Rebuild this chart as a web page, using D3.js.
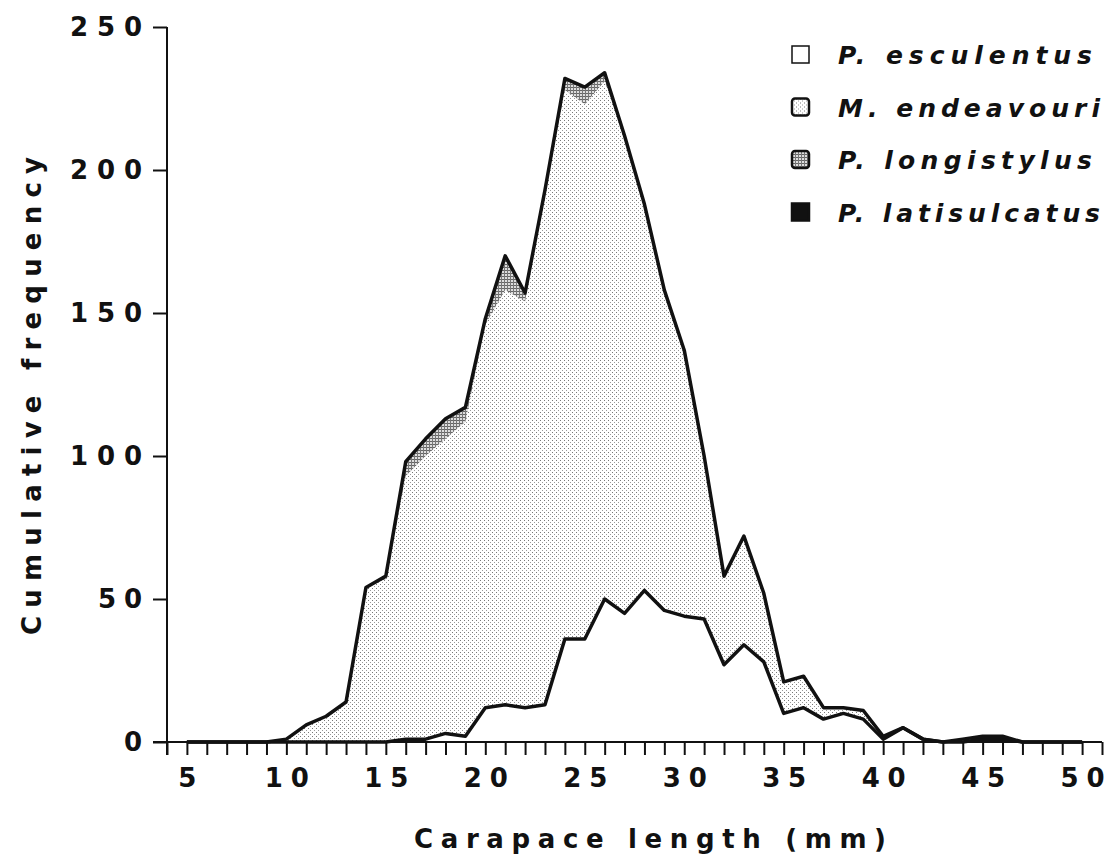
<!DOCTYPE html>
<html>
<head>
<meta charset="utf-8">
<script src="https://cdn.jsdelivr.net/npm/d3@7"></script>
<style>
  body { margin: 0; background: #fff; }
  svg text { font-family: "DejaVu Sans", "Liberation Sans", sans-serif; font-weight: bold; fill: #111; }
</style>
</head>
<body>
<div id="chart"></div>
<script>
// carapace length classes (mm)
const lengths = d3.range(5, 51);

// counts per class
const esculentus = [0,0,0,0,0, 0,0,0,0,0, 0,1,1,3,2, 12,13,12,13,36, 36,50,45,53,46, 44,43,27,34,28, 10,12,8,10,8, 1,5,1,0,0, 1,1,0,0,0, 0];
const endeavouri = [0,0,0,0,0, 1,6,9,14,54, 57,92,99,103,110, 134,145,142,179,192, 187,181,167,135,112, 93,57,31,38,24, 11,11,4,2,3, 1,0,0,0,1, 0,0,0,0,0, 0];
const longistylus = [0,0,0,0,0, 0,0,0,0,0, 1,5,6,7,5, 2,12,3,1,4, 6,3,0,0,0, 0,0,0,0,0, 0,0,0,0,0, 0,0,0,0,0, 0,0,0,0,0, 0];
const latisulcatus = [0,0,0,0,0, 0,0,0,0,0, 0,0,0,0,0, 0,0,0,0,0, 0,0,0,0,0, 0,0,0,0,0, 0,0,0,0,0, 0,0,0,0,0, 1,1,0,0,0, 0];

const species = ['P. esculentus', 'M. endeavouri', 'P. longistylus', 'P. latisulcatus'];
const yTicks = [0, 50, 100, 150, 200, 250];
const xLabels = [5, 10, 15, 20, 25, 30, 35, 40, 45, 50];

const W = 1108, H = 854;
const svg = d3.select('#chart').append('svg').attr('width', W).attr('height', H);

// stipple fills
const defs = svg.append('defs');
const light = defs.append('pattern').attr('id', 'light').attr('width', 4).attr('height', 4)
    .attr('patternUnits', 'userSpaceOnUse');
light.append('rect').attr('width', 4).attr('height', 4).attr('fill', '#fff');
light.append('rect').attr('x', 0).attr('y', 0).attr('width', 1).attr('height', 1).attr('fill', '#777');
light.append('rect').attr('x', 2).attr('y', 2).attr('width', 1).attr('height', 1).attr('fill', '#999');

const dark = defs.append('pattern').attr('id', 'dark').attr('width', 3).attr('height', 3)
    .attr('patternUnits', 'userSpaceOnUse');
dark.append('rect').attr('width', 3).attr('height', 3).attr('fill', '#ddd');
dark.append('rect').attr('x', 0).attr('y', 0).attr('width', 3).attr('height', 1).attr('fill', '#666');
dark.append('rect').attr('x', 0).attr('y', 0).attr('width', 1).attr('height', 3).attr('fill', '#777');

const fills = ['#fff', 'url(#light)', 'url(#dark)', '#111'];

const x = d3.scaleLinear().domain([4, 51]).range([167, 1102]);
const y = d3.scaleLinear().domain([0, 250]).range([742, 27]);

const rows = lengths.map((len, i) => ({
    len: len,
    'P. esculentus': esculentus[i],
    'M. endeavouri': endeavouri[i],
    'P. longistylus': longistylus[i],
    'P. latisulcatus': latisulcatus[i]
}));

const layers = d3.stack().keys(species)(rows);

const area = d3.area()
    .x(d => x(d.data.len))
    .y0(d => y(d[0]))
    .y1(d => y(d[1]));

svg.append('g').selectAll('path')
    .data(layers)
    .join('path')
    .attr('d', area)
    .attr('fill', (d, i) => fills[i]);

// outlines: esculentus and the total
const line = d3.line().x(d => x(d.data.len)).y(d => y(d[1]));
[layers[0], layers[layers.length - 1]].forEach(l => {
    svg.append('path').attr('d', line(l))
        .attr('fill', 'none').attr('stroke', '#111')
        .attr('stroke-width', 3.5).attr('stroke-linejoin', 'round');
});

// spread the numbers a little, like the typed originals
const labelWidth = s => ({ 1: 0, 2: 44, 3: 72 })[String(s).length];

// axes
const yAxis = d3.axisLeft(y).tickValues(yTicks).tickSize(14).tickPadding(11);
const gy = svg.append('g').attr('transform', `translate(${x(4)},0)`).call(yAxis);
gy.select('.domain').attr('d', `M0,${y(250)}V${y(0) + 13}`);

const xAxis = d3.axisBottom(x).tickValues(d3.range(4, 52)).tickSize(13).tickPadding(14)
    .tickFormat(d => xLabels.includes(d) ? d : '');
const gx = svg.append('g').attr('transform', `translate(0,${y(0)})`).call(xAxis);
gx.select('.domain').attr('d', `M${x(4) - 14},0H${x(51)}`);

[gx, gy].forEach(g => {
    g.selectAll('.domain, .tick line').attr('stroke', '#111').attr('stroke-width', 2);
    g.selectAll('text').attr('font-size', 26)
        .attr('font-family', null)
        .each(function () {
            const t = d3.select(this).text();
            if (labelWidth(t)) d3.select(this).attr('textLength', labelWidth(t)).attr('lengthAdjust', 'spacing');
        });
});

// axis titles
svg.append('text')
    .attr('transform', `translate(41,396) rotate(-90)`)
    .attr('text-anchor', 'middle')
    .attr('font-size', 26)
    .attr('textLength', 478).attr('lengthAdjust', 'spacing')
    .text('Cumulative frequency');

svg.append('text')
    .attr('x', 650).attr('y', 848)
    .attr('text-anchor', 'middle')
    .attr('font-size', 26)
    .attr('textLength', 472).attr('lengthAdjust', 'spacing')
    .text('Carapace length (mm)');

// legend
const legend = svg.append('g').attr('transform', 'translate(792,46)');
species.forEach((s, i) => {
    const g = legend.append('g').attr('transform', `translate(0,${i * 52.5})`);
    g.append('rect').attr('width', 17).attr('height', 17)
        .attr('rx', i === 0 || i === 3 ? 0 : 3)
        .attr('fill', fills[i]).attr('stroke', '#111')
        .attr('stroke-width', i === 0 ? 1.5 : 2.5);
    g.append('text').attr('x', 46).attr('y', 18)
        .attr('font-size', 25).attr('font-style', 'italic')
        .attr('textLength', i % 2 ? 262 : 254).attr('lengthAdjust', 'spacing')
        .text(s);
});
</script>
</body>
</html>
